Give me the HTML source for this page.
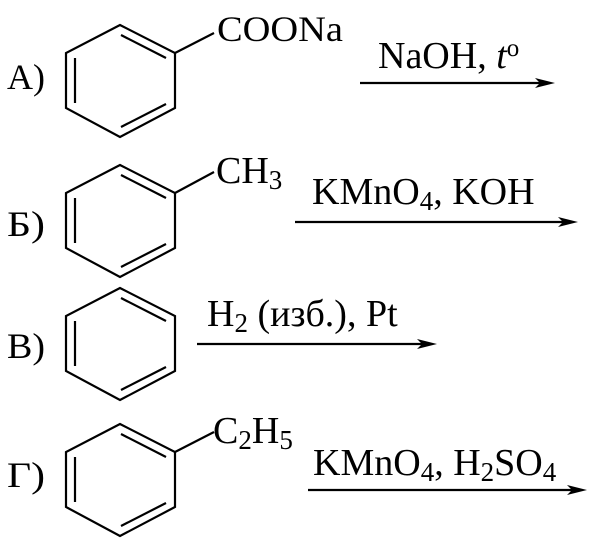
<!DOCTYPE html>
<html><head><meta charset="utf-8"><style>html,body{margin:0;padding:0;background:#fff}</style></head>
<body>
<svg width="604" height="555" viewBox="0 0 604 555" xmlns="http://www.w3.org/2000/svg" style="font-family:'Liberation Serif','DejaVu Serif',serif" font-size="36" fill="#000">
<defs>
<g id="ring" stroke="#000" stroke-width="2.2" fill="none">
<polygon points="120,0 175,28 175,83 120,112 66,83 66,28"/>
<line x1="75" y1="33" x2="75" y2="78"/>
<line x1="121" y1="10" x2="166" y2="33"/>
<line x1="121" y1="102" x2="166" y2="79"/>
</g>
</defs>
<use href="#ring" y="25"/>
<use href="#ring" y="165"/>
<use href="#ring" y="288"/>
<use href="#ring" y="424"/>
<g stroke="#000" stroke-width="2.2">
<line x1="175" y1="53" x2="214" y2="33"/>
<line x1="175" y1="193" x2="214" y2="172"/>
<line x1="175" y1="452" x2="214" y2="432"/>
<line x1="360" y1="83" x2="540" y2="83"/>
<line x1="295" y1="222" x2="565" y2="222"/>
<line x1="197" y1="344" x2="424" y2="344"/>
<line x1="308" y1="490" x2="574" y2="490"/>
</g>
<polygon points="555,83 535,78 540,83 535,88"/>
<polygon points="578,222 558,217 563,222 558,227"/>
<polygon points="437,344 417,339 422,344 417,349"/>
<polygon points="587,490 567,485 572,490 567,495"/>
<text x="7" y="89" textLength="38" lengthAdjust="spacingAndGlyphs">A)</text>
<text x="7" y="236" textLength="38" lengthAdjust="spacingAndGlyphs">Б)</text>
<text x="7" y="358" textLength="38" lengthAdjust="spacingAndGlyphs">В)</text>
<text x="7" y="487" textLength="38" lengthAdjust="spacingAndGlyphs">Г)</text>
<text x="217" y="41" textLength="126" lengthAdjust="spacingAndGlyphs">COONa</text>
<text x="216" y="183" font-size="38">CH<tspan font-size="27" dy="6">3</tspan></text>
<text x="213" y="443" font-size="38">C<tspan font-size="27" dy="6">2</tspan><tspan dy="-6">H</tspan><tspan font-size="27" dy="6">5</tspan></text>
<g font-size="38">
<text x="378" y="68">NaOH, <tspan font-style="italic">t</tspan><tspan font-size="25" dy="-12">o</tspan></text>
<text x="312" y="204">KMnO<tspan font-size="27" dy="6">4</tspan><tspan dy="-6">, KOH</tspan></text>
<text x="207" y="326">H<tspan font-size="27" dy="6">2</tspan><tspan dy="-6"> (изб.), Pt</tspan></text>
<text x="313" y="475">KMnO<tspan font-size="27" dy="6">4</tspan><tspan dy="-6">, H</tspan><tspan font-size="27" dy="6">2</tspan><tspan dy="-6">SO</tspan><tspan font-size="27" dy="6">4</tspan></text>
</g>
</svg>
</body></html>
